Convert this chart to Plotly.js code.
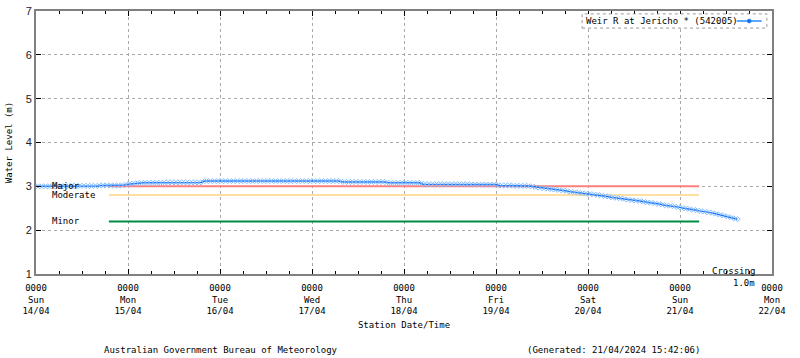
<!DOCTYPE html>
<html>
<head>
<meta charset="utf-8">
<script src="https://cdn.plot.ly/plotly-3.0.1.min.js"></script>
<style>
  html, body { margin: 0; padding: 0; background: #fff; }
  #chart { width: 800px; height: 358px; }
</style>
</head>
<body>
<div id="chart"></div>
<script>
// ---- data ----
const seriesName = "Weir R at Jericho * (542005)";
const startTime = "2024-04-14T00:00:00";   // first hourly reading
const stepHours = 1;                        // hourly readings
const waterLevel = [
  3.00,3.00,3.00,3.00,3.00,3.00,3.00,3.00,3.00,
  3.01,3.01,3.01,3.01,3.01,3.01,3.01,3.01,
  3.02,3.02,3.02,3.02,3.02,3.02,
  3.03,3.05,3.06,3.07,
  3.08,3.08,3.08,3.08,3.08,3.08,3.08,
  3.09,3.09,3.09,3.09,3.09,3.09,3.09,3.09,3.09,3.09,
  3.12,3.12,3.12,3.12,3.12,3.12,3.12,3.12,3.12,3.12,3.12,3.12,
  3.12,3.12,3.12,3.12,3.12,3.12,3.12,3.12,3.12,3.12,3.12,3.12,
  3.12,3.12,3.12,3.12,3.12,3.12,3.12,3.12,3.12,3.12,3.12,3.12,
  3.10,3.10,3.10,3.10,3.10,3.10,3.10,3.10,3.10,3.10,3.10,3.10,
  3.08,3.08,3.08,3.08,3.08,3.08,3.08,3.08,3.08,
  3.05,3.05,3.05,3.05,3.05,3.05,3.05,3.05,3.05,3.05,3.05,3.05,3.05,
  3.04,3.04,3.04,3.04,3.04,3.04,3.04,
  3.02,3.02,3.02,3.02,
  3.01,3.01,3.01,3.01,
  3.00,2.99,2.97,2.96,2.95,2.94,2.93,2.92,2.91,2.90,
  2.88,2.87,2.86,2.85,2.84,2.83,2.82,2.81,2.80,2.78,
  2.77,2.75,2.74,2.73,2.72,2.70,2.69,2.68,2.67,2.66,
  2.64,2.63,2.62,2.60,2.59,2.57,2.56,2.55,2.53,2.52,
  2.50,2.49,2.47,2.46,2.44,2.43,2.41,2.40,2.38,2.36,
  2.34,2.32,2.30,2.27,2.25
];

const thresholdNames  = ["Major", "Moderate", "Minor"];
const thresholdLevels = [3.0, 2.8, 2.2];
const thresholdStart  = "2024-04-14T19:00:00";
const thresholdEnd    = "2024-04-21T05:00:00";

const tickDates = ["2024-04-14","2024-04-15","2024-04-16","2024-04-17","2024-04-18",
                   "2024-04-19","2024-04-20","2024-04-21","2024-04-22"];
const tickTimes = ["0000","0000","0000","0000","0000","0000","0000","0000","0000"];
const tickDays  = ["Sun","Mon","Tue","Wed","Thu","Fri","Sat","Sun","Mon"];
const tickDayMonth = ["14/04","15/04","16/04","17/04","18/04","19/04","20/04","21/04","22/04"];

const yTicks = [1,2,3,4,5,6,7];
const footerLeft  = "Australian Government Bureau of Meteorology";
const footerRight = "(Generated: 21/04/2024 15:42:06)";
const crossingWord = "Crossing";
const crossingLevel = "1.0m";

// ---- build ----
const t0 = new Date(startTime + "Z").getTime();
function fmt(ms) {
  const d = new Date(ms);
  const p = n => String(n).padStart(2, "0");
  return d.getUTCFullYear() + "-" + p(d.getUTCMonth()+1) + "-" + p(d.getUTCDate()) +
         " " + p(d.getUTCHours()) + ":" + p(d.getUTCMinutes());
}
const times = waterLevel.map((_, i) => fmt(t0 + i * stepHours * 3600000));

const mono = "DejaVu Sans Mono, monospace";
const thresholdColors = ["#ff7f7f", "#ffe0a0", "#008b45"];

const traces = [];
thresholdLevels.forEach((lv, i) => {
  traces.push({
    x: [thresholdStart, thresholdEnd], y: [lv, lv],
    mode: "lines", line: { color: thresholdColors[i], width: 2 },
    hoverinfo: "skip", showlegend: false
  });
});
traces.push({
  x: times, y: waterLevel, name: seriesName,
  mode: "lines+markers",
  line: { color: "#1a73f5", width: 1.5 },
  marker: { symbol: "diamond-open", size: 4, color: "#80bbff", line: { width: 1, color: "#80bbff" } },
  showlegend: false
});

const ticktext = tickDates.map((_, i) => tickTimes[i] + "<br>" + tickDays[i] + "<br>" + tickDayMonth[i]);

const annotations = [];
thresholdNames.forEach((n, i) => {
  annotations.push({
    text: n, xref: "paper", x: 0.019, xanchor: "left",
    yref: "y", y: thresholdLevels[i], yanchor: "middle",
    showarrow: false, font: { family: mono, size: 9, color: "#000" }
  });
});
annotations.push({
  text: seriesName, xref: "paper", x: 0.744, xanchor: "left",
  yref: "paper", y: 0.962, yanchor: "middle",
  showarrow: false, font: { family: mono, size: 9, color: "#000" }
});
annotations.push({
  text: crossingWord, xref: "paper", x: 0.980, xanchor: "right",
  yref: "paper", y: 0.010, yanchor: "middle",
  showarrow: false, font: { family: mono, size: 9, color: "#000" }
});
annotations.push({
  text: crossingLevel, xref: "paper", x: 0.980, xanchor: "right",
  yref: "paper", y: -0.034, yanchor: "middle",
  showarrow: false, font: { family: mono, size: 9, color: "#000" }
});
annotations.push({
  text: footerLeft, xref: "paper", x: 0.251, xanchor: "center",
  yref: "paper", y: -0.289, yanchor: "middle",
  showarrow: false, font: { family: mono, size: 9, color: "#000" }
});
annotations.push({
  text: footerRight, xref: "paper", x: 0.784, xanchor: "center",
  yref: "paper", y: -0.289, yanchor: "middle",
  showarrow: false, font: { family: mono, size: 9, color: "#000" }
});

const shapes = [
  { type: "rect", xref: "paper", yref: "paper", x0: 0.742, x1: 0.993, y0: 0.935, y1: 0.989,
    line: { color: "#999", width: 1, dash: "dot" }, fillcolor: "rgba(255,255,255,1)", layer: "above" },
  { type: "line", xref: "paper", yref: "paper", x0: 0.952, x1: 0.986, y0: 0.962, y1: 0.962,
    line: { color: "#5aa8ff", width: 2 }, layer: "above" },
  { type: "circle", xref: "paper", yref: "paper", x0: 0.9665, x1: 0.9715, y0: 0.955, y1: 0.969,
    line: { color: "#1a73f5", width: 1 }, fillcolor: "#1a73f5", layer: "above" }
];

const layout = {
  width: 800, height: 358,
  margin: { l: 36, r: 28, t: 11, b: 84 },
  paper_bgcolor: "#fff", plot_bgcolor: "#fff",
  showlegend: false,
  xaxis: {
    type: "date",
    range: ["2024-04-14 00:00", "2024-04-22 00:00"],
    tickmode: "array", tickvals: tickDates, ticktext: ticktext,
    tickfont: { family: mono, size: 9, color: "#000" },
    ticks: "inside", ticklen: 5, tickcolor: "#000", tickwidth: 1,
    ticklabelstandoff: 4,
    minor: { dtick: 6 * 3600000, ticks: "inside", ticklen: 3, tickcolor: "#000", showgrid: false },
    showline: true, linecolor: "#808080", linewidth: 2, mirror: "ticks",
    showgrid: true, gridcolor: "#aaa", griddash: "dot", gridwidth: 1,
    zeroline: false,
    title: { text: "Station Date/Time", font: { family: mono, size: 9, color: "#000" }, standoff: 6 },
    automargin: false
  },
  yaxis: {
    range: [1, 7],
    tickmode: "array", tickvals: yTicks,
    tickfont: { family: "Liberation Sans, Arial, sans-serif", size: 11, color: "#222" },
    ticks: "inside", ticklen: 5, tickcolor: "#000", tickwidth: 1,
    showline: true, linecolor: "#808080", linewidth: 2, mirror: "ticks",
    showgrid: true, gridcolor: "#aaa", griddash: "dot", gridwidth: 1,
    zeroline: false,
    title: { text: "Water Level (m)", font: { family: mono, size: 9, color: "#000" }, standoff: 12 },
    automargin: false
  },
  annotations: annotations,
  shapes: shapes
};

Plotly.newPlot("chart", traces, layout, { staticPlot: true, displayModeBar: false });
</script>
</body>
</html>
